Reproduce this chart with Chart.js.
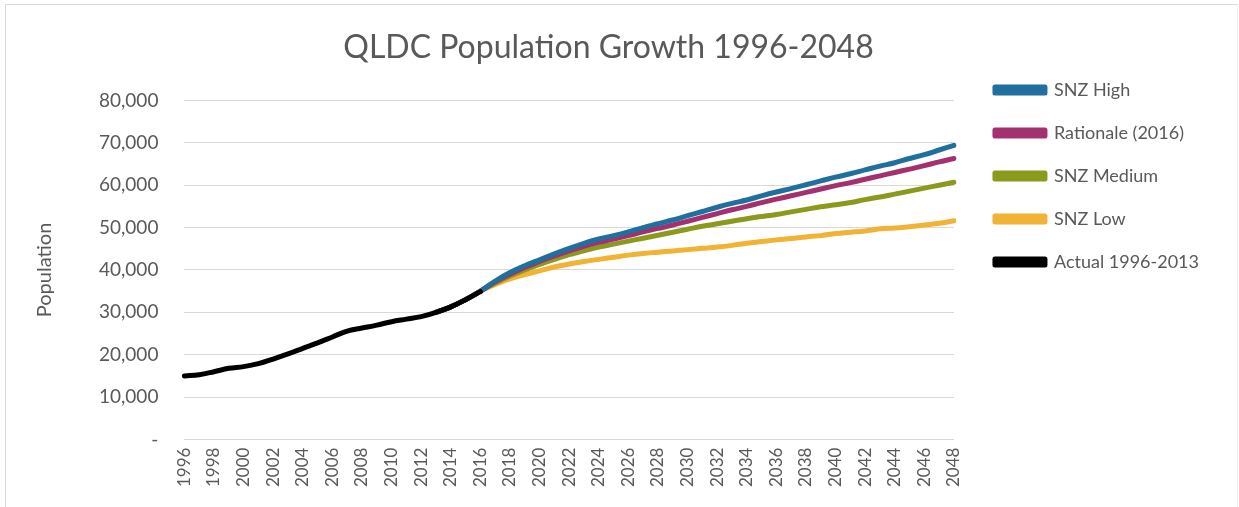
<!DOCTYPE html>
<html>
<head>
<meta charset="utf-8">
<script src="https://cdn.jsdelivr.net/npm/chart.js@4/dist/chart.umd.min.js"></script>
<style>
  html, body { margin: 0; padding: 0; background: #fff; }
  #wrap { position: relative; width: 1239px; height: 507px; }
  #frame { position: absolute; left: 5px; top: 4px; right: 1px; bottom: -2px;
           border-left: 1px solid #d9d9d9; border-top: 1px solid #d9d9d9; border-right: 1px solid #eeeeee; }
</style>
</head>
<body>
<div id="wrap">
  <canvas id="popChart" width="1239" height="507"></canvas>
  <div id="frame"></div>
</div>
<script>
// Роки (категорії осі X)
const years = [
    "1996", "1997", "1998", "1999", "2000", "2001", "2002", "2003", "2004", "2005",
    "2006", "2007", "2008", "2009", "2010", "2011", "2012", "2013", "2014", "2015",
    "2016", "2017", "2018", "2019", "2020", "2021", "2022", "2023", "2024", "2025",
    "2026", "2027", "2028", "2029", "2030", "2031", "2032", "2033", "2034", "2035",
    "2036", "2037", "2038", "2039", "2040", "2041", "2042", "2043", "2044", "2045",
    "2046", "2047", "2048"
];

// Фактичні дані 1996-2016
const actual = [
    15000, 15300, 16000, 16800, 17200, 17900, 19000, 20200, 21500, 22800,
    24200, 25600, 26300, 27000, 27800, 28400, 29000, 30000, 31300, 33000,
    34900
];

// Прогнози 2013-2048
const snzHigh = [
    30000, 31300, 33000, 35000, 37400, 39400, 41000, 42400, 43800, 45100,
    46300, 47300, 48100, 49000, 50000, 50900, 51800, 52800, 53800, 54800,
    55700, 56500, 57500, 58400, 59200, 60100, 61000, 61900, 62700, 63600,
    64500, 65300, 66300, 67200, 68300, 69400
];
const rationale = [
    30000, 31300, 33000, 35000, 37200, 39000, 40600, 42000, 43300, 44500,
    45600, 46500, 47300, 48100, 49000, 49800, 50600, 51500, 52400, 53300,
    54200, 55000, 55900, 56700, 57500, 58300, 59100, 59900, 60600, 61400,
    62200, 63000, 63800, 64600, 65500, 66300
];
const snzMedium = [
    30000, 31300, 33000, 35000, 36900, 38600, 40000, 41300, 42500, 43600,
    44500, 45400, 46100, 46800, 47500, 48200, 48900, 49600, 50300, 50900,
    51500, 52100, 52600, 53100, 53700, 54300, 54900, 55400, 55900, 56600,
    57200, 57900, 58600, 59300, 60000, 60700
];
const snzLow = [
    30000, 31300, 33000, 35000, 36600, 37900, 38900, 39800, 40700, 41400,
    42000, 42500, 43000, 43500, 43900, 44200, 44500, 44800, 45100, 45400,
    45800, 46300, 46700, 47100, 47400, 47800, 48100, 48600, 48900, 49200,
    49700, 49900, 50200, 50600, 51000, 51600
];

// Підписи осі Y
const yTicks = ["-", "10,000", "20,000", "30,000", "40,000", "50,000", "60,000", "70,000", "80,000"];

const gap = n => Array(n).fill(null);
const projStart = years.indexOf("2013");

const fontFamily = "Lato, 'Open Sans', sans-serif";
const grey = "#595959";
const legendGap = 16; // відступ між графіком та легендою

function series(label, values, color, order) {
    return {
        label: label,
        data: values,
        borderColor: color,
        backgroundColor: color,
        borderWidth: 5,
        pointRadius: 0,
        pointHoverRadius: 0,
        tension: 0.4,
        borderCapStyle: "round",
        borderJoinStyle: "round",
        order: order
    };
}

const ctx = document.getElementById("popChart").getContext("2d");
const chart = new Chart(ctx, {
    type: "line",
    data: {
        labels: years,
        datasets: [
            series("SNZ High", gap(projStart).concat(snzHigh), "#1f6f9f", 1),
            series("Rationale (2016)", gap(projStart).concat(rationale), "#a3306f", 2),
            series("SNZ Medium", gap(projStart).concat(snzMedium), "#8b9a1d", 3),
            series("SNZ Low", gap(projStart).concat(snzLow), "#f2b233", 4),
            series("Actual 1996-2013", actual.concat(gap(years.length - actual.length)), "#000000", 0)
        ]
    },
    options: {
        responsive: false,
        animation: false,
        layout: { padding: { left: 8, right: 30, top: 0, bottom: 12 } },
        plugins: {
            title: {
                display: true,
                text: "QLDC Population Growth 1996-2048",
                color: grey,
                font: { family: fontFamily, size: 32, weight: "normal" },
                padding: { top: 28, bottom: 34 }
            },
            legend: {
                position: "right",
                align: "start",
                title: { display: true, text: " ", padding: { top: 0, bottom: 32 }, font: { size: 20 } },
                labels: {
                    boxWidth: 50,
                    boxHeight: 6,
                    padding: 25,
                    color: grey,
                    font: { family: fontFamily, size: 18 },
                    sort: (a, b) => a.datasetIndex - b.datasetIndex
                }
            },
            tooltip: { enabled: false }
        },
        scales: {
            x: {
                grid: { display: false, drawTicks: false },
                border: { color: "#d9d9d9" },
                ticks: {
                    autoSkip: false,
                    maxRotation: 90,
                    minRotation: 90,
                    padding: 8,
                    color: grey,
                    font: { family: fontFamily, size: 17 },
                    callback: (v, i) => (i % 2 === 0 ? years[i] : "")
                }
            },
            y: {
                min: 0,
                max: 80000,
                grid: { color: "#d9d9d9", drawTicks: false },
                border: { display: false },
                title: {
                    display: true,
                    text: "Population",
                    color: grey,
                    font: { family: fontFamily, size: 20 },
                    padding: { top: 25, bottom: 16 }
                },
                ticks: {
                    stepSize: 10000,
                    padding: 26,
                    color: grey,
                    font: { family: fontFamily, size: 19 },
                    callback: v => yTicks[v / 10000]
                }
            }
        }
    }
});

// Легенда ширша на legendGap, але малюється на тому ж місці
const legend = chart.legend;
const baseFit = legend.fit.bind(legend);
legend.fit = function () {
    baseFit();
    this.width += legendGap;
};
const baseDraw = legend.draw.bind(legend);
legend.draw = function () {
    this.ctx.save();
    this.ctx.translate(legendGap, 0);
    baseDraw();
    this.ctx.restore();
};
chart.update();
</script>
</body>
</html>
